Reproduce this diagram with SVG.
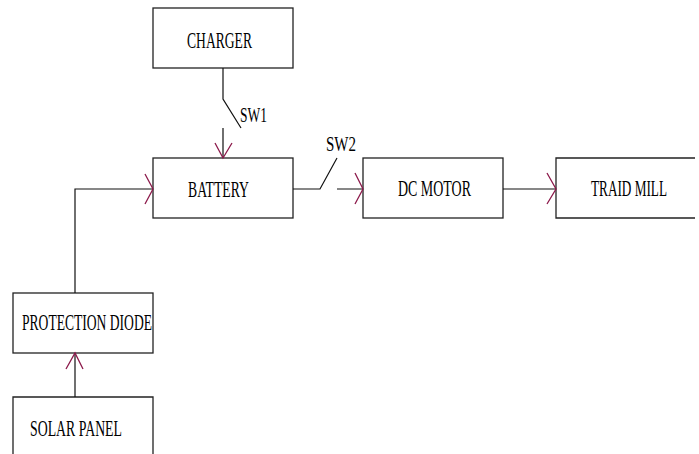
<svg xmlns="http://www.w3.org/2000/svg" width="699" height="454" viewBox="0 0 699 454">
<style>
.box{fill:#fff;stroke:#222;stroke-width:1.3}
.ln{fill:none;stroke:#111;stroke-width:1.2}
.ah{fill:none;stroke:#8c1a4b;stroke-width:1.3}
.t{font-family:"Liberation Serif","Times New Roman",serif;font-size:24px;fill:#000}
.s{font-size:21px}
</style>
<rect width="699" height="454" fill="#fff"/>
<g id="charger">
<rect class="box" x="153" y="8" width="140" height="60"/>
<text class="t" x="187" y="48" textLength="65" lengthAdjust="spacingAndGlyphs">CHARGER</text>
</g>
<g id="battery">
<rect class="box" x="153" y="158" width="140" height="60"/>
<text class="t" x="188" y="197" textLength="61" lengthAdjust="spacingAndGlyphs">BATTERY</text>
</g>
<g id="dcmotor">
<rect class="box" x="363" y="158" width="140" height="60"/>
<text class="t" x="398" y="196" textLength="73" lengthAdjust="spacingAndGlyphs">DC MOTOR</text>
</g>
<g id="traidmill">
<path class="box" d="M695,158 H556 V218 H695"/>
<text class="t" x="591" y="196" textLength="76" lengthAdjust="spacingAndGlyphs">TRAID MILL</text>
</g>
<g id="protection">
<rect class="box" x="13" y="293" width="140" height="60"/>
<text class="t" x="22" y="330" textLength="130" lengthAdjust="spacingAndGlyphs">PROTECTION DIODE</text>
</g>
<g id="solar">
<path class="box" d="M13,460 V397 H153 V460"/>
<text class="t" x="30" y="436" textLength="92" lengthAdjust="spacingAndGlyphs">SOLAR PANEL</text>
</g>
<g id="connectors">
<path class="ln" d="M223,68 V99 L241,128 M223,128 V158"/>
<text class="t s" x="240" y="122" textLength="27" lengthAdjust="spacingAndGlyphs">SW1</text>
<path class="ah" d="M215,143 L223,158 L232,143"/>
<path class="ln" d="M293,189 H320 L337,158 M337,189 H363"/>
<text class="t s" x="326" y="151" textLength="30" lengthAdjust="spacingAndGlyphs">SW2</text>
<path class="ah" d="M355,173 L363,189 L355,204"/>
<path class="ln" d="M503,189 H556"/>
<path class="ah" d="M547,173 L556,189 L547,204"/>
<path class="ln" d="M75,293 V189 H153"/>
<path class="ah" d="M145,174 L153,189 L145,204"/>
<path class="ln" d="M75,397 V353"/>
<path class="ah" d="M66,369 L75,353 L83,369"/>
</g>
</svg>
